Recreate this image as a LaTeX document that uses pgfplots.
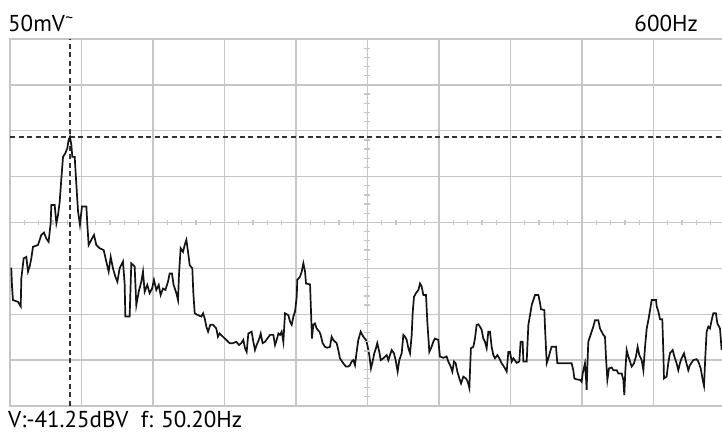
\documentclass[border=0pt]{standalone}
\usepackage{fontspec}
\setmainfont{PT Sans}
\usepackage{pgfplots}
\usepackage{pgfplotstable}
\pgfplotsset{compat=1.18}
\definecolor{gridgray}{RGB}{198,198,198}
\definecolor{trace}{RGB}{20,20,20}
\definecolor{cursor}{RGB}{50,50,50}

% spectrum trace: frequency (Hz), level (divisions from bottom)
\pgfplotstableread{
f y
0.5 3.00
1.1 3.00
1.7 2.60
2.5 2.31
6.7 2.27
9.0 2.17
9.5 2.78
11.5 3.22
13.7 3.25
15.1 2.93
16.5 3.04
17.9 3.22
19.3 3.47
23.5 3.51
26.3 3.73
28.5 3.78
30.5 3.65
32.4 3.58
34.1 3.98
34.7 4.38
37.5 4.38
38.9 3.98
40.3 4.16
41.7 4.45
43.1 4.96
44.5 5.43
46.4 5.51
48.1 5.62
49.2 5.80
50.3 5.87
51.5 5.69
52.3 5.43
54.3 5.43
55.7 4.82
57.1 4.24
58.7 3.95
60.4 4.35
64.1 4.35
64.9 3.95
66.0 3.51
68.2 3.62
70.5 3.73
72.4 3.51
75.2 3.44
78.6 3.40
80.8 3.15
82.8 2.93
84.5 3.25
86.4 3.00
88.4 2.82
90.1 2.71
92.0 3.00
94.8 3.15
96.2 2.67
96.8 1.95
100.4 1.95
101.8 3.11
104.6 3.04
106.0 2.20
108.0 2.49
110.2 2.71
111.6 2.93
113.0 2.49
115.2 2.64
117.2 2.46
119.2 2.56
120.8 2.75
122.8 2.53
124.8 2.64
126.4 2.42
128.4 2.56
130.4 2.53
132.6 2.71
134.0 2.89
135.9 2.89
137.3 2.64
139.6 2.46
141.0 2.31
141.8 2.86
143.2 3.44
145.2 3.36
146.6 3.51
148.0 3.62
149.4 3.36
150.8 3.07
153.0 3.00
153.8 2.49
155.0 2.02
157.8 1.98
160.6 1.95
162.0 2.02
163.4 1.91
164.8 1.73
166.2 1.62
168.1 1.77
170.4 1.77
173.1 1.69
174.5 1.51
175.9 1.58
178.7 1.51
181.5 1.44
184.3 1.37
187.1 1.37
189.9 1.40
192.2 1.33
194.1 1.37
195.8 1.44
197.2 1.26
198.6 1.18
200.0 1.58
202.8 1.62
204.2 1.40
205.6 1.22
207.0 1.33
209.2 1.47
210.4 1.58
212.0 1.37
214.0 1.40
215.9 1.47
218.2 1.55
221.0 1.55
222.4 1.33
223.8 1.44
225.2 1.58
226.6 1.55
228.0 1.62
229.4 1.40
230.8 2.02
233.6 1.98
235.0 1.84
236.4 1.77
237.8 1.95
239.2 2.06
240.6 2.38
241.1 2.75
243.4 2.82
244.8 2.93
246.2 3.11
247.6 2.93
248.4 2.67
251.8 2.65
252.6 2.06
253.4 1.47
254.5 1.77
255.9 1.80
257.3 1.69
259.6 1.62
260.7 1.55
262.4 1.37
264.3 1.29
266.3 1.27
268.5 1.29
269.9 1.51
271.3 1.44
274.1 1.37
275.5 1.22
276.9 1.04
279.7 0.93
281.9 0.86
283.9 0.86
285.3 0.89
286.7 0.97
288.1 1.00
289.5 0.89
290.9 1.18
292.3 1.44
294.3 1.62
296.5 1.51
298.7 1.44
299.9 1.33
301.5 1.11
302.9 0.82
304.3 0.97
305.7 1.15
307.1 1.26
308.2 1.37
309.9 1.18
311.1 1.00
313.3 1.04
316.1 1.11
317.5 1.00
318.9 1.11
320.3 1.22
322.2 1.15
323.6 1.00
325.3 0.75
326.7 1.00
328.7 1.15
330.1 1.55
331.5 1.51
332.9 1.44
334.3 1.26
335.7 1.15
337.1 1.55
337.9 2.02
339.0 2.38
340.7 2.46
342.7 2.53
344.1 2.67
345.5 2.60
346.9 2.42
349.1 2.42
350.2 1.84
351.9 1.18
353.8 1.29
355.2 1.40
356.6 1.47
359.4 1.44
360.8 1.08
363.6 1.05
366.4 1.08
367.8 0.97
369.8 0.86
371.2 0.75
372.6 0.97
374.0 0.93
375.4 0.75
377.1 0.60
378.5 0.49
380.4 0.64
382.7 0.60
384.1 0.53
385.5 0.39
386.0 0.75
386.8 1.26
388.8 1.29
390.2 1.47
391.6 1.77
393.0 1.78
394.4 1.73
395.8 1.66
397.2 1.47
398.6 1.40
400.0 1.26
401.4 1.62
402.8 1.62
404.2 1.29
405.6 1.11
407.0 1.04
409.0 1.11
410.6 1.04
412.6 0.93
414.5 0.86
416.8 0.75
418.2 1.18
419.6 1.18
421.0 0.97
422.4 1.04
425.2 0.94
427.4 0.97
428.5 1.40
430.2 1.40
430.8 0.97
433.6 0.97
435.0 1.77
436.4 1.98
437.8 2.20
439.2 2.31
440.6 2.42
443.4 2.42
444.8 2.24
445.6 2.11
448.4 2.09
449.0 1.69
450.4 0.93
451.8 1.04
453.2 1.18
454.5 1.29
458.2 1.29
459.3 0.93
471.3 0.93
472.7 0.78
473.6 0.60
475.5 0.58
478.3 0.57
479.7 0.53
480.6 0.71
482.5 0.93
483.4 0.60
483.9 0.35
484.5 0.86
485.3 1.40
486.7 1.51
488.1 1.62
489.5 1.73
490.9 1.87
493.7 1.87
495.1 1.69
496.5 1.62
497.9 1.55
499.3 1.51
500.1 1.08
501.3 0.57
502.7 0.82
504.9 0.84
506.3 0.78
509.1 0.78
510.5 0.71
513.3 0.71
514.7 0.57
515.5 0.24
516.4 0.78
517.5 1.22
518.9 1.08
520.3 0.97
521.7 0.86
523.6 0.93
525.3 1.08
526.7 1.29
528.1 1.11
530.1 1.00
531.5 0.78
532.9 1.29
534.3 1.69
535.7 1.87
537.1 2.09
538.5 2.31
542.1 2.31
542.7 2.17
544.1 2.06
545.5 1.89
547.4 1.89
548.3 1.15
548.8 0.60
551.0 0.64
552.4 0.93
553.8 1.15
556.1 1.22
557.5 1.08
559.4 0.93
560.8 0.78
562.2 0.93
563.6 1.04
565.6 1.15
567.3 0.97
569.2 0.78
570.6 0.89
573.4 1.00
576.2 1.02
577.6 0.97
579.6 0.82
581.3 0.57
582.4 0.44
583.5 1.08
584.6 1.62
586.0 1.73
587.4 1.69
588.8 1.87
590.2 2.02
592.4 2.02
593.6 1.80
595.8 1.69
597.2 1.22
}\spectrum

\begin{document}
\begin{tikzpicture}
\path[use as bounding box] (-10bp,-27bp) rectangle (712bp,406bp);
\begin{axis}[
    at={(0,0)}, anchor=south west,
    scale only axis,
    width=712bp, height=367bp,
    xmin=0, xmax=597.5,
    ymin=0, ymax=8,
    xtick={0,60,...,540},
    ytick={0,1,...,8},
    xticklabels={}, yticklabels={},
    major tick length=0pt,
    grid=major,
    major grid style={gridgray, line width=1.3bp},
    axis line style={draw=none},
    clip=false,
]
% frame (right side is cut off in the original screen)
\addplot[gridgray, line width=2bp] coordinates {(597.5,8) (0,8) (0,0) (597.5,0)};
% minor ticks on the centre cross
\addplot[only marks, mark=|, mark size=2.8bp, gridgray, mark options={line width=1.3bp}]
coordinates {
    (12,4) (24,4) (36,4) (48,4) (72,4) (84,4) (96,4) (108,4)
    (132,4) (144,4) (156,4) (168,4) (192,4) (204,4) (216,4) (228,4)
    (252,4) (264,4) (276,4) (288,4) (312,4) (324,4) (336,4) (348,4)
    (372,4) (384,4) (396,4) (408,4) (432,4) (444,4) (456,4) (468,4)
    (492,4) (504,4) (516,4) (528,4) (552,4) (564,4) (576,4) (588,4)
};
\addplot[only marks, mark=-, mark size=3bp, gridgray, mark options={line width=1.3bp}]
coordinates {
    (300,0.2) (300,0.4) (300,0.6) (300,0.8) (300,1.2) (300,1.4) (300,1.6) (300,1.8)
    (300,2.2) (300,2.4) (300,2.6) (300,2.8) (300,3.2) (300,3.4) (300,3.6) (300,3.8)
    (300,4.2) (300,4.4) (300,4.6) (300,4.8) (300,5.2) (300,5.4) (300,5.6) (300,5.8)
    (300,6.2) (300,6.4) (300,6.6) (300,6.8) (300,7.2) (300,7.4) (300,7.6) (300,7.8)
};
% cursors
\addplot[cursor, line width=1.6bp, dash pattern=on 5bp off 3.5bp] coordinates {(50.2,0) (50.2,8)};
\addplot[cursor, line width=1.6bp, dash pattern=on 5bp off 3.5bp] coordinates {(0,5.86) (597.5,5.86)};
% trace
\addplot[trace, line width=1.7bp, line join=miter] table[x=f, y=y] {\spectrum};
\end{axis}
\fontsize{23bp}{27bp}\selectfont
\node[anchor=base west, inner sep=0pt] at (-2bp,374bp) {50mV\textsuperscript{\textasciitilde}};
\node[anchor=base east, inner sep=0pt] at (688bp,374bp) {600Hz};
\node[anchor=base west, inner sep=0pt] at (-2bp,-21.5bp) {V:-41.25dBV\ \ f: 50.20Hz};
\end{tikzpicture}
\end{document}
